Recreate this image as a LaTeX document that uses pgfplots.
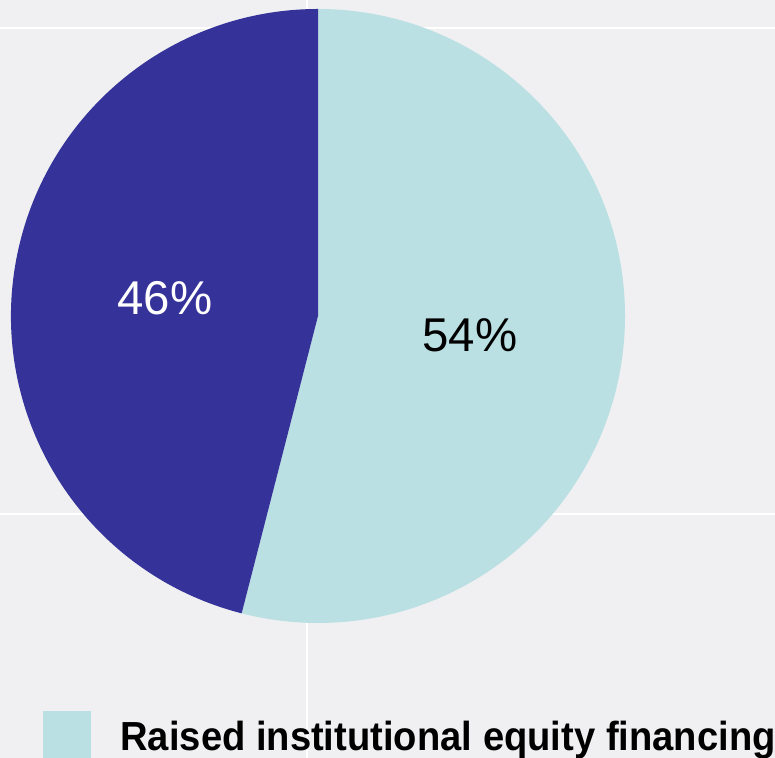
\documentclass[border=0pt]{standalone}
\usepackage{pgfplots}
\pgfplotsset{compat=1.18}
\usepackage{fontspec}
\setmainfont{Liberation Sans}
\usepackage{graphicx}

\definecolor{bgc}{HTML}{F0F0F2}
\definecolor{darkc}{HTML}{35339A}
\definecolor{lightc}{HTML}{BAE0E3}

% shares in percent
\def\shareA{54} % raised institutional equity financing
\def\shareB{46}

\begin{document}
\begin{tikzpicture}
\begin{axis}[
    x=0.5pt, y=0.5pt,
    xmin=0, xmax=775,
    ymin=0, ymax=758,
    scale only axis,
    axis line style={draw=none},
    tick style={draw=none},
    xtick={307}, ytick={244,730},
    xticklabels={}, yticklabels={},
    grid=major,
    major grid style={white, line width=1pt},
    axis background/.style={fill=bgc},
    clip=false
]
\pgfmathsetmacro{\angA}{90-3.6*\shareA}
\pgfmathsetmacro{\angB}{\angA-3.6*\shareB}
% pie, centre (318,442), radius 307 units = 153.5pt
\fill[lightc] (axis cs:318,442) -- ++(90:153.5pt)
    arc[start angle=90, end angle=\angA, radius=153.5pt] -- cycle;
\fill[darkc] (axis cs:318,442) -- ++(\angA:153.5pt)
    arc[start angle=\angA, end angle=\angB, radius=153.5pt] -- cycle;
\node[white, font=\fontsize{23.7}{28}\selectfont, inner sep=0pt]
    at (axis cs:165,460) {\shareB\%};
\node[black, font=\fontsize{23.7}{28}\selectfont, inner sep=0pt]
    at (axis cs:470,423) {\shareA\%};
% legend
\fill[lightc] (axis cs:43,-2) rectangle (axis cs:91,47);
\node[anchor=base west, inner sep=0pt, font=\fontsize{20.3}{24}\selectfont\bfseries]
    at (axis cs:120,7) {\scalebox{0.94}[1]{Raised institutional equity financing}};
\end{axis}
\pgfresetboundingbox
\useasboundingbox (current axis.south west) rectangle (current axis.north east);
\end{tikzpicture}
\end{document}
